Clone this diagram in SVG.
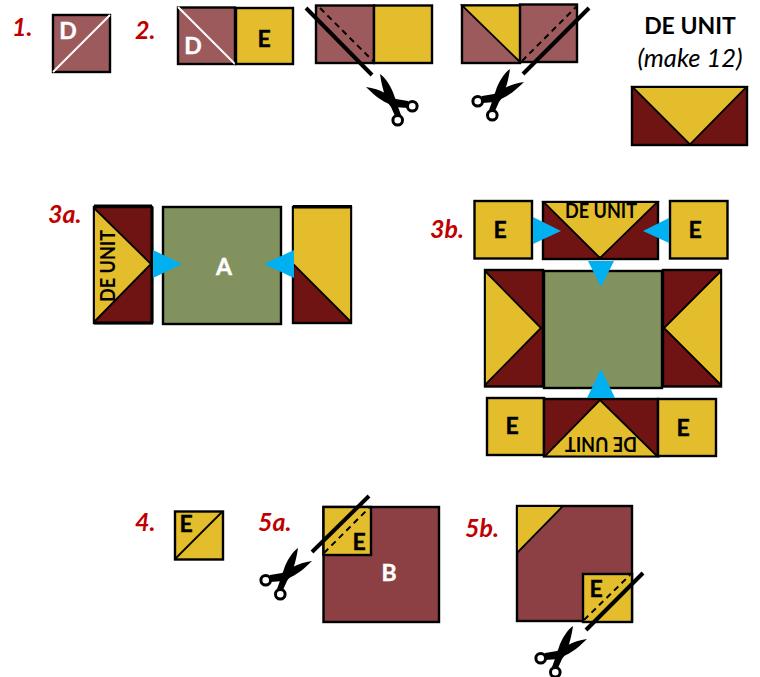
<svg xmlns="http://www.w3.org/2000/svg" width="760" height="677" viewBox="0 0 760 677">
<style>
text{font-family:Lato,"Open Sans","Liberation Sans",sans-serif;font-weight:700}
.lab{fill:#c00000;font-style:italic;font-size:25px}
.k{fill:#000;font-size:23px;text-anchor:middle;stroke:#000;stroke-width:.4}
.w{fill:#fff;font-size:23px;text-anchor:middle;stroke:#fff;stroke-width:.4}
.u{fill:#000;font-size:21px;text-anchor:middle}
.s{stroke:#000;stroke-width:2.4;stroke-linejoin:miter}
.t{stroke:#000;stroke-width:1.8;stroke-linejoin:miter}
.rose{fill:#9c5a5c}.yel{fill:#e3bd2b}.dk{fill:#701313}.grn{fill:#82925f}.brk{fill:#8c4043}
.cut{stroke:#000;stroke-width:4;fill:none}
.dash{stroke:#000;stroke-width:2;stroke-dasharray:6 4.500;fill:none}
.arr{fill:#00b0f0}
</style>
<defs>
<g id="sc">
<path d="M-8,-24C-3,-21 4,-10 6,-3L9,6L13,17L7,18L3,9C-2,3 -6,-10 -8,-24Z" fill="#000"/>
<path d="M-22,-11C-15,-10 -8,-8 -3,-5L8,1L20,3L20,10L6,9L-1,5C-8,2 -16,-5 -22,-11Z" fill="#000"/>
<circle cx="24.300" cy="8.300" r="4.800" fill="#fff" stroke="#000" stroke-width="3"/>
<circle cx="9.700" cy="22.300" r="4.800" fill="#fff" stroke="#000" stroke-width="3"/>
</g>
</defs>

<g id="step1">
<text class="lab" x="12" y="36">1.</text>
<rect class="rose s" x="53" y="15" width="57" height="57"/>
<path d="M53,72L110,15" stroke="#fff" stroke-width="2" fill="none"/>
<text class="w" x="68" y="39">D</text>
</g>

<g id="step2">
<text class="lab" x="135" y="39">2.</text>
<rect class="rose s" x="178" y="7.500" width="57" height="56.500"/>
<path d="M178,7L235,64" stroke="#fff" stroke-width="2" fill="none"/>
<text class="w" x="193" y="54">D</text>
<rect class="yel s" x="236" y="8" width="57" height="56"/>
<text class="k" x="264" y="47">E</text>
</g>

<g id="step2-cut-a">
<rect class="rose s" x="316" y="5.500" width="58" height="57.500"/>
<rect class="yel s" x="374" y="5.500" width="58" height="57.500"/>
<path class="dash" d="M320,8L373,61"/>
<path class="cut" d="M306,8L372,75"/>
<use href="#sc" x="388" y="98"/>
</g>

<g id="step2-cut-b">
<rect class="rose s" x="462" y="5.500" width="58" height="57.500"/>
<path class="yel t" d="M462,5.500H520V62Z"/>
<rect class="rose s" x="520" y="4.500" width="57" height="57.500"/>
<path class="dash" d="M522,61L577,6"/>
<path class="cut" d="M523,74L589,8"/>
<use href="#sc" transform="translate(502,93) scale(-1,1)"/>
</g>

<g id="de-unit">
<text x="690" y="34" style="font-size:23px;text-anchor:middle">DE UNIT</text>
<text x="690" y="67" style="font-size:25.500px;font-weight:400;font-style:italic;text-anchor:middle">(make 12)</text>
<rect class="dk s" x="632" y="87" width="115" height="58"/>
<path class="yel t" d="M632.500,87H746.500L690,144.500Z"/>
</g>

<g id="step3a-left">
<text class="lab" x="48" y="223">3a.</text>
<rect class="dk s" x="94" y="207" width="58" height="116"/>
<path class="yel t" d="M94,208L151,264L94,322Z"/>
<text class="u" transform="translate(115,266) rotate(-90)" textLength="72" lengthAdjust="spacingAndGlyphs">DE UNIT</text>
<path d="M94,206H152M94,323H153M152,207V323" stroke="#000" stroke-width="3" fill="none"/>
</g>

<g id="step3a-a">
<rect class="grn s" x="163" y="207" width="118" height="117"/>
<text class="w" x="224" y="275">A</text>
</g>

<g id="step3a-right">
<rect class="dk s" x="293" y="207" width="58" height="116"/>
<path class="yel t" d="M293,207.500H351V322L293,264Z"/>
<path d="M293,206.500H352" stroke="#000" stroke-width="3" fill="none"/>
</g>

<g id="step3b-top">
<text class="lab" x="430" y="238">3b.</text>
<rect class="yel s" x="474.500" y="201" width="57.500" height="57.500"/>
<text class="k" x="500" y="238">E</text>
<rect class="dk s" x="543" y="202" width="115" height="57"/>
<path class="yel t" d="M543.500,202H657.500L600,258Z"/>
<text class="u" x="601" y="218" textLength="72" lengthAdjust="spacingAndGlyphs">DE UNIT</text>
<rect class="yel s" x="670" y="201" width="57.500" height="57.500"/>
<text class="k" x="695" y="238">E</text>
</g>

<g id="step3b-middle">
<rect class="dk s" x="485" y="270" width="58" height="116.500"/>
<path class="yel t" d="M485,271L541,328L485,385Z"/>
<rect class="grn s" x="544" y="271" width="118" height="117"/>
<rect class="dk s" x="663" y="270" width="58" height="116.500"/>
<path class="yel t" d="M721,271L664,328L721,385Z"/>
</g>

<g id="step3b-bottom">
<rect class="yel s" x="487" y="398" width="57" height="57"/>
<text class="k" x="512" y="434">E</text>
<rect class="dk s" x="544" y="399" width="114" height="57"/>
<path class="yel t" d="M600,400L657.500,456.500H544.500Z"/>
<text class="u" transform="translate(601,437) rotate(180)" textLength="72" lengthAdjust="spacingAndGlyphs">DE UNIT</text>
<rect class="yel s" x="658" y="399" width="58" height="57"/>
<text class="k" x="683" y="436">E</text>
</g>

<g id="step4">
<text class="lab" x="135" y="531">4.</text>
<rect class="yel s" x="175" y="511.500" width="48" height="48"/>
<path d="M175,559L222,512" stroke="#000" stroke-width="1.800" fill="none"/>
<text class="k" x="186" y="532">E</text>
</g>

<g id="step5a">
<text class="lab" x="258" y="531">5a.</text>
<rect class="brk s" x="323.500" y="507" width="115.500" height="115"/>
<rect class="yel s" x="323.500" y="507" width="47.500" height="48"/>
<text class="k" x="359" y="550">E</text>
<text class="w" x="389" y="581">B</text>
<path class="dash" d="M324,553L369,508"/>
<path class="cut" d="M312,552L369,496"/>
<use href="#sc" transform="translate(290,572) scale(-1,1)"/>
</g>

<g id="step5b">
<text class="lab" x="465" y="537">5b.</text>
<rect class="brk s" x="517" y="506" width="115" height="115"/>
<path class="yel t" d="M517,506H563L517,553Z"/>
<rect class="yel s" x="583" y="574" width="49" height="48"/>
<text class="k" x="596" y="597">E</text>
<path class="dash" d="M584,620L630,575"/>
<path class="cut" d="M586,630L643,573"/>
<use href="#sc" transform="translate(565,650) scale(-1,1)"/>
</g>

<g id="connectors">
<path class="arr" d="M153,250V278L182,264Z"/>
<path class="arr" d="M294,250V278L264,264Z"/>
<path class="arr" d="M533,217V244L561,231Z"/>
<path class="arr" d="M669,218V243L643,231Z"/>
<path class="arr" d="M588,261H614L601,287Z"/>
<path class="arr" d="M587,398H615L601,369Z"/>
</g>
</svg>
